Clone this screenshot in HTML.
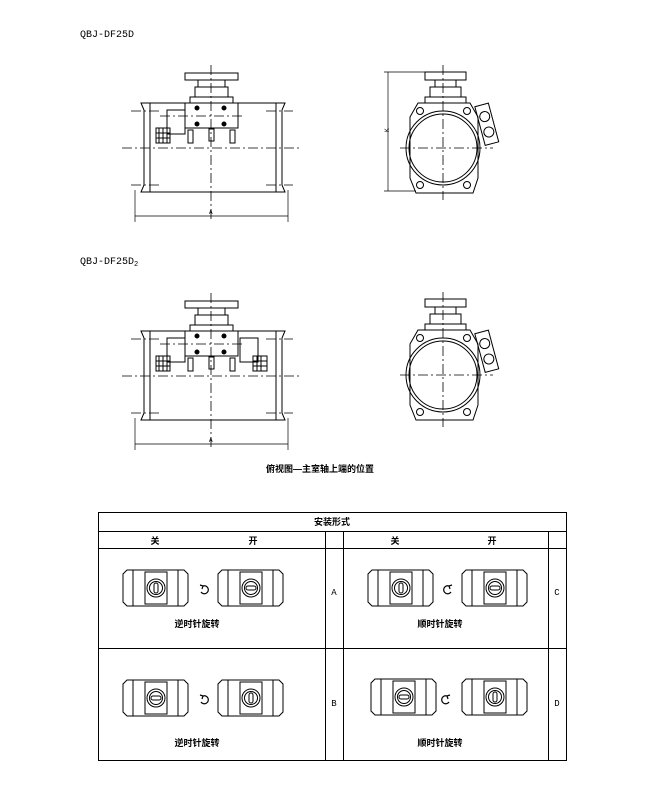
<!DOCTYPE html>
<html><head><meta charset="utf-8"><style>
html,body{margin:0;padding:0;background:#fff}
svg{display:block}
text{font-family:"Liberation Mono","Noto Sans CJK SC",monospace;fill:#000}
.cn{font-family:"Liberation Sans","Noto Sans CJK SC",sans-serif;font-weight:bold;font-size:9px}
</style></head><body>
<svg width="650" height="799" viewBox="0 0 650 799" xmlns="http://www.w3.org/2000/svg">
<defs>
<g id="front" fill="none" stroke="#000" stroke-width="1">
 <!-- body -->
 <path d="M141 103 H285 L282 110 V185 L285 192 H141 L144 185 V110 Z"/>
 <line x1="150" y1="103" x2="150" y2="192"/>
 <line x1="276" y1="103" x2="276" y2="192"/>
 <!-- top flange -->
 <rect x="185" y="73" width="53" height="7"/>
 <rect x="198" y="80" width="27" height="7"/>
 <rect x="195" y="87" width="33" height="10"/>
 <rect x="190" y="97" width="43" height="6"/>
 <!-- block -->
 <rect x="185" y="103" width="53" height="25"/>
 <rect x="167" y="110" width="18" height="24"/>
 <rect x="156" y="128" width="14" height="15"/>
 <line x1="159" y1="128" x2="159" y2="143"/><line x1="163" y1="128" x2="163" y2="143"/><line x1="167" y1="128" x2="167" y2="143"/>
 <line x1="156" y1="133" x2="170" y2="133"/><line x1="156" y1="138" x2="170" y2="138"/>
 <rect x="188" y="130" width="5" height="13"/>
 <rect x="209" y="129" width="5" height="12"/>
 <rect x="230" y="130" width="5" height="13"/>
 <circle cx="197" cy="108" r="2" fill="#000"/><circle cx="224" cy="108" r="2" fill="#000"/>
 <circle cx="197" cy="124" r="2" fill="#000"/><circle cx="224" cy="124" r="2" fill="#000"/>
 <!-- centre lines -->
 <g stroke-dasharray="10,3,2,3" stroke-width="0.8">
  <line x1="211" y1="65" x2="211" y2="222"/>
  <line x1="122" y1="148" x2="300" y2="148"/>
  <line x1="131" y1="111" x2="160" y2="111"/><line x1="266" y1="111" x2="293" y2="111"/>
  <line x1="131" y1="185" x2="160" y2="185"/><line x1="266" y1="185" x2="293" y2="185"/>
  <line x1="160" y1="116" x2="245" y2="116"/>
 </g>
 <!-- dimension A -->
 <line x1="135" y1="190" x2="135" y2="222" stroke-width="0.7"/>
 <line x1="288" y1="190" x2="288" y2="222" stroke-width="0.7"/>
 <line x1="135" y1="216" x2="288" y2="216" stroke-width="0.7"/>
</g>
<g id="side" fill="none" stroke="#000" stroke-width="1">
 <rect x="425" y="72" width="41" height="8"/>
 <rect x="435" y="80" width="21" height="7"/>
 <rect x="430" y="87" width="31" height="10"/>
 <rect x="425" y="97" width="41" height="6"/>
 <path d="M418 103 H470 L478 117 V178 L473 193 H416 L410 178 V117 Z"/>
 <circle cx="443" cy="148" r="37"/>
 <circle cx="443" cy="148" r="34"/>
 <circle cx="420" cy="111" r="3.5"/><circle cx="467" cy="111" r="3.5"/>
 <circle cx="420" cy="185" r="3.5"/><circle cx="467" cy="185" r="3.5"/>
 <g transform="rotate(-15 488 125)">
  <rect x="480" y="104" width="14" height="40"/>
  <circle cx="487" cy="116" r="5"/><circle cx="487" cy="132" r="5"/>
 </g>
 <g stroke-dasharray="10,3,2,3" stroke-width="0.8">
  <line x1="443" y1="65" x2="443" y2="200"/>
  <line x1="400" y1="148" x2="493" y2="148"/>
 </g>
</g>
<g id="sw" fill="none" stroke="#000" stroke-width="1">
 <path d="M4 0 H61 L65 4 V32 L61 36 H4 L0 32 V4 Z"/>
 <line x1="10" y1="0" x2="10" y2="36"/><line x1="55" y1="0" x2="55" y2="36"/>
 <rect x="22" y="2" width="22" height="32"/>
 <circle cx="33" cy="18" r="9"/>
 <circle cx="33" cy="18" r="6.5"/>
</g>
</defs>

<text x="80" y="37" font-size="10">QBJ-DF25D</text>
<use href="#front"/>
<text x="209" y="214" font-size="6">A</text>
<use href="#side"/>
<g stroke="#000" stroke-width="0.7">
 <line x1="388" y1="72" x2="388" y2="191"/>
 <line x1="384" y1="72" x2="425" y2="72"/>
 <line x1="384" y1="191" x2="416" y2="191"/>
</g>
<text x="386" y="135" font-size="6" transform="rotate(-90 386 132)">K</text>

<text x="80" y="264" font-size="10">QBJ-DF25D<tspan font-size="7" dy="2">2</tspan></text>
<g transform="translate(0,228)">
 <use href="#front"/>
 <text x="209" y="214" font-size="6">A</text>
 <g fill="none" stroke="#000">
  <rect x="240" y="110" width="18" height="24"/>
  <rect x="253" y="128" width="14" height="15"/>
  <line x1="257" y1="128" x2="257" y2="143"/><line x1="261" y1="128" x2="261" y2="143"/>
  <line x1="253" y1="133" x2="267" y2="133"/><line x1="253" y1="138" x2="267" y2="138"/>
 </g>
</g>
<g transform="translate(0,227)"><use href="#side"/></g>

<text class="cn" x="320" y="472" text-anchor="middle">俯视图—主室轴上端的位置</text>

<!-- table -->
<g fill="none" stroke="#000" stroke-width="1">
 <rect x="98.5" y="512.5" width="468" height="248"/>
 <line x1="98" y1="531.5" x2="566" y2="531.5"/>
 <line x1="98" y1="548.5" x2="566" y2="548.5"/>
 <line x1="98" y1="648.5" x2="566" y2="648.5"/>
 <line x1="325.5" y1="531" x2="325.5" y2="760"/>
 <line x1="343.5" y1="531" x2="343.5" y2="760"/>
 <line x1="548.5" y1="531" x2="548.5" y2="760"/>
</g>
<text class="cn" x="332" y="525" text-anchor="middle">安装形式</text>
<text class="cn" x="155" y="544" text-anchor="middle">关</text>
<text class="cn" x="253" y="544" text-anchor="middle">开</text>
<text class="cn" x="395" y="544" text-anchor="middle">关</text>
<text class="cn" x="492" y="544" text-anchor="middle">开</text>
<text x="334" y="595" font-size="9" text-anchor="middle">A</text>
<text x="557" y="595" font-size="9" text-anchor="middle">C</text>
<text x="334" y="706" font-size="9" text-anchor="middle">B</text>
<text x="557" y="706" font-size="9" text-anchor="middle">D</text>
<text class="cn" x="197" y="627" text-anchor="middle">逆时针旋转</text>
<text class="cn" x="440" y="627" text-anchor="middle">顺时针旋转</text>
<text class="cn" x="197" y="746" text-anchor="middle">逆时针旋转</text>
<text class="cn" x="440" y="746" text-anchor="middle">顺时针旋转</text>

<!-- switches row1 -->
<g transform="translate(123,570)"><use href="#sw"/><rect x="31" y="13" width="4" height="10" rx="2" fill="none" stroke="#000"/></g>
<g transform="translate(218,570)"><use href="#sw"/><rect x="28" y="16" width="10" height="4" rx="2" fill="none" stroke="#000"/></g>
<g transform="translate(368,570)"><use href="#sw"/><rect x="31" y="13" width="4" height="10" rx="2" fill="none" stroke="#000"/></g>
<g transform="translate(462,570)"><use href="#sw"/><rect x="28" y="16" width="10" height="4" rx="2" fill="none" stroke="#000"/></g>
<!-- row2 -->
<g transform="translate(123,680)"><use href="#sw"/><rect x="28" y="16" width="10" height="4" rx="2" fill="none" stroke="#000"/></g>
<g transform="translate(218,680)"><use href="#sw"/><rect x="31" y="13" width="4" height="10" rx="2" fill="none" stroke="#000"/></g>
<g transform="translate(371,679)"><use href="#sw"/><rect x="28" y="16" width="10" height="4" rx="2" fill="none" stroke="#000"/></g>
<g transform="translate(462,679)"><use href="#sw"/><rect x="31" y="13" width="4" height="10" rx="2" fill="none" stroke="#000"/></g>
<!-- rotation arrows -->
<g fill="none" stroke="#000" stroke-width="1.2">
 <path d="M201 592 a4 4 0 1 0 2 -6 l-3 -1 m3 1 l-1 3"/>
 <path d="M451 592 a4 4 0 1 1 -2 -6 l3 -1 m-3 1 l1 3"/>
 <path d="M201 702 a4 4 0 1 0 2 -6 l-3 -1 m3 1 l-1 3"/>
 <path d="M449 702 a4 4 0 1 1 -2 -6 l3 -1 m-3 1 l1 3"/>
</g>
</svg>
</body></html>
